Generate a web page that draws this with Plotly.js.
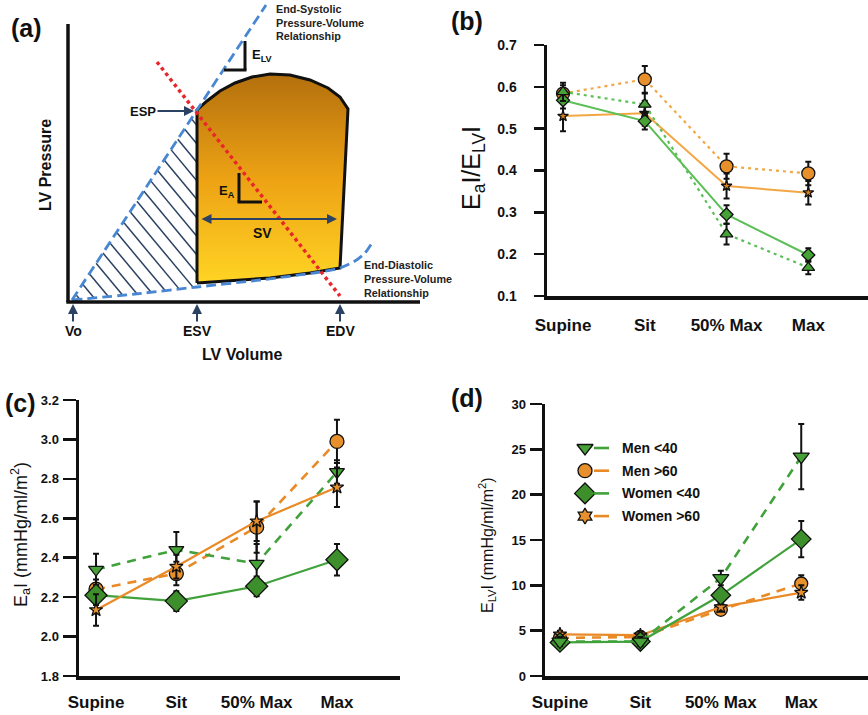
<!DOCTYPE html>
<html>
<head>
<meta charset="utf-8">
<script src="https://cdn.plot.ly/plotly-3.0.1.min.js"></script>
<style>
  html, body { margin: 0; padding: 0; background: #ffffff; }
  #chart { width: 868px; height: 715px; }
</style>
</head>
<body>
<div id="chart"></div>
<script>
// ---------- data ----------
const stages = ['Supine', 'Sit', '50% Max', 'Max'];
const groups = ['Men <40', 'Men >60', 'Women <40', 'Women >60'];

// (b) Ea I / ELV I
const ratioMenYoung      = [0.588, 0.558, 0.248, 0.168];
const ratioMenYoungErr   = [0.022, 0.026, 0.025, 0.016];
const ratioMenOld        = [0.584, 0.618, 0.410, 0.393];
const ratioMenOldErr     = [0.020, 0.032, 0.030, 0.028];
const ratioWomenYoung    = [0.568, 0.518, 0.295, 0.198];
const ratioWomenYoungErr = [0.020, 0.020, 0.022, 0.016];
const ratioWomenOld      = [0.530, 0.537, 0.363, 0.347];
const ratioWomenOldErr   = [0.036, 0.030, 0.030, 0.028];

// (c) Ea I (mmHg/ml/m2)
const eaMenYoung      = [2.34, 2.44, 2.37, 2.835];
const eaMenYoungErr   = [0.08, 0.09, 0.10, 0.06];
const eaMenOld        = [2.24, 2.32, 2.555, 2.99];
const eaMenOldErr     = [0.05, 0.06, 0.13, 0.11];
const eaWomenYoung    = [2.21, 2.18, 2.255, 2.39];
const eaWomenYoungErr = [0.05, 0.05, 0.05, 0.08];
const eaWomenOld      = [2.135, 2.355, 2.585, 2.757];
const eaWomenOldErr   = [0.08, 0.06, 0.10, 0.10];

// (d) ELV I (mmHg/ml/m2)
const elvMenYoung      = [3.8, 3.8, 10.8, 24.2];
const elvMenYoungErr   = [0.5, 0.5, 0.8, 3.6];
const elvMenOld        = [4.2, 4.3, 7.3, 10.2];
const elvMenOldErr     = [0.4, 0.4, 0.5, 0.9];
const elvWomenYoung    = [3.7, 3.8, 8.9, 15.1];
const elvWomenYoungErr = [0.4, 0.4, 0.6, 2.0];
const elvWomenOld      = [4.6, 4.5, 7.6, 9.2];
const elvWomenOldErr   = [0.4, 0.4, 0.5, 0.8];

// ---------- styling ----------
const W = 868, H = 715;
const fx = p => p / W;
const fy = p => 1 - p / H;
const FONT = 'Liberation Sans, Arial, sans-serif';
const INK = '#111111';
const NAVY = '#2B4263';
const BLUE = '#4A87D2';
const GREEN_LINE = '#41A23B', ORANGE_LINE = '#E98A26';
const GREEN_LINE_B = '#5CBF56', ORANGE_LINE_B = '#F3A744';
const GREEN_DIAMOND = '#3C8F2B', GREEN_TRI = '#46A236';
const ORANGE_FILL = '#E8902C', STAR_FILL = '#D9801E';

function series(xa, ya, y, err, o) {
  return {
    type: 'scatter', mode: 'lines+markers', x: stages, y: y,
    xaxis: xa, yaxis: ya, cliponaxis: false, showlegend: false, hoverinfo: 'skip',
    line: { color: o.line, width: o.lw, dash: o.dash },
    marker: { symbol: o.symbol, size: o.size, color: o.fill, opacity: 1, line: { color: INK, width: 1.3 } },
    error_y: { type: 'data', array: err, visible: true, color: INK, thickness: 2, width: 3 }
  };
}

const DOTTED = '3px,4px';
const DASHED = '9px,7px';

const traces = [];

// ---------- (a) pressure-volume schematic, drawn in pixel space ----------
const vo = [72, 300], esp = [197, 110];
const esSlope = (esp[1] - vo[1]) / (esp[0] - vo[0]);
const edSlope = (287 - vo[1]) / (esp[0] - vo[0]);
const hatchSlope = 1.2;
const hx = [], hy = [];
for (let c = -111; c <= 205; c += 18.5) {
  const xs = (vo[1] - esSlope * vo[0] - c) / (hatchSlope - esSlope);
  let xe = esp[0];
  let ye = hatchSlope * xe + c;
  if (ye > vo[1] + edSlope * (xe - vo[0])) {
    xe = (vo[1] - edSlope * vo[0] - c) / (hatchSlope - edSlope);
    ye = hatchSlope * xe + c;
  }
  if (xe <= xs) continue;
  hx.push(xs, xe, null);
  hy.push(hatchSlope * xs + c, ye, null);
}
traces.push({ type: 'scatter', mode: 'lines', x: hx, y: hy, xaxis: 'x', yaxis: 'y',
  line: { color: NAVY, width: 1.5 }, hoverinfo: 'skip', showlegend: false });

// pressure-volume loop
const loopX = [197, 197, 207, 220, 235, 252, 270, 290, 310, 328, 340, 348, 340, 310, 270, 230, 197];
const loopY = [283, 110, 101, 91, 83, 77, 74, 75, 80, 88, 97, 109, 268, 273, 278, 281, 283];
traces.push({ type: 'scatter', mode: 'lines', x: loopX, y: loopY, xaxis: 'x', yaxis: 'y',
  fill: 'toself',
  fillgradient: { type: 'vertical', start: 283, stop: 74,
    colorscale: [[0, '#FFD424'], [0.5, '#EDA214'], [1, '#B36F0D']] },
  line: { color: INK, width: 3 }, hoverinfo: 'skip', showlegend: false });

// end-systolic and end-diastolic pressure-volume relationships
traces.push({ type: 'scatter', mode: 'lines', x: [vo[0], 266], y: [vo[1], 5], xaxis: 'x', yaxis: 'y',
  line: { color: BLUE, width: 2.8, dash: '10px,5px' }, hoverinfo: 'skip', showlegend: false });
traces.push({ type: 'scatter', mode: 'lines',
  x: [72, 135, 197, 260, 320, 340, 355, 365, 372],
  y: [300, 294, 287, 280, 272, 268, 261, 253, 243],
  xaxis: 'x', yaxis: 'y', line: { color: BLUE, width: 2.8, dash: '10px,5px', shape: 'spline', smoothing: 0.8 },
  hoverinfo: 'skip', showlegend: false });

// arterial elastance line
traces.push({ type: 'scatter', mode: 'lines', x: [157, 340], y: [62, 296], xaxis: 'x', yaxis: 'y',
  line: { color: '#E8262B', width: 3.5, dash: 'dot' }, hoverinfo: 'skip', showlegend: false });

// ---------- (b) ----------
traces.push(series('x2', 'y2', ratioWomenOld, ratioWomenOldErr,
  { line: ORANGE_LINE_B, lw: 2, dash: 'solid', symbol: 'star', size: 8, fill: STAR_FILL }));
traces.push(series('x2', 'y2', ratioMenOld, ratioMenOldErr,
  { line: ORANGE_LINE_B, lw: 2.2, dash: DOTTED, symbol: 'circle', size: 13, fill: ORANGE_FILL }));
traces.push(series('x2', 'y2', ratioWomenYoung, ratioWomenYoungErr,
  { line: GREEN_LINE_B, lw: 2, dash: 'solid', symbol: 'diamond', size: 10, fill: GREEN_TRI }));
traces.push(series('x2', 'y2', ratioMenYoung, ratioMenYoungErr,
  { line: GREEN_LINE_B, lw: 2.2, dash: DOTTED, symbol: 'triangle-up', size: 11, fill: GREEN_TRI }));

// ---------- (c) ----------
traces.push(series('x3', 'y3', eaMenOld, eaMenOldErr,
  { line: ORANGE_LINE, lw: 2.6, dash: DASHED, symbol: 'circle', size: 14, fill: ORANGE_FILL }));
traces.push(series('x3', 'y3', eaMenYoung, eaMenYoungErr,
  { line: GREEN_LINE, lw: 2.6, dash: DASHED, symbol: 'triangle-down', size: 13, fill: GREEN_TRI }));
traces.push(series('x3', 'y3', eaWomenYoung, eaWomenYoungErr,
  { line: GREEN_LINE, lw: 2.2, dash: 'solid', symbol: 'diamond', size: 17, fill: GREEN_DIAMOND }));
traces.push(series('x3', 'y3', eaWomenOld, eaWomenOldErr,
  { line: ORANGE_LINE, lw: 2.2, dash: 'solid', symbol: 'star', size: 10, fill: ORANGE_FILL }));

// ---------- (d) ----------
traces.push(series('x4', 'y4', elvMenOld, elvMenOldErr,
  { line: ORANGE_LINE, lw: 2.6, dash: DASHED, symbol: 'circle', size: 13, fill: ORANGE_FILL }));
traces.push(series('x4', 'y4', elvWomenOld, elvWomenOldErr,
  { line: ORANGE_LINE, lw: 2.2, dash: 'solid', symbol: 'star', size: 10, fill: ORANGE_FILL }));
traces.push(series('x4', 'y4', elvWomenYoung, elvWomenYoungErr,
  { line: GREEN_LINE, lw: 2.2, dash: 'solid', symbol: 'diamond', size: 15, fill: GREEN_DIAMOND }));
traces.push(series('x4', 'y4', elvMenYoung, elvMenYoungErr,
  { line: GREEN_LINE, lw: 2.6, dash: DASHED, symbol: 'triangle-down', size: 14, fill: GREEN_TRI }));

// ---------- legend for (d): one glyph per group ----------
const legendSymbols = ['triangle-down', 'circle', 'diamond', 'hexagram'];
const legendFills = [GREEN_TRI, ORANGE_FILL, GREEN_DIAMOND, ORANGE_FILL];
const legendLines = [GREEN_LINE, ORANGE_LINE, GREEN_LINE, ORANGE_LINE];
const legendSizes = [14, 14, 16, 12];
const legendTop = 448, legendStep = 22.7;
const legendRowY = groups.map((g, i) => legendTop + i * legendStep);
groups.forEach((g, i) => {
  traces.push({ type: 'scatter', mode: 'markers', x: [585], y: [legendRowY[i]],
    xaxis: 'x', yaxis: 'y', hoverinfo: 'skip', showlegend: false, cliponaxis: false,
    marker: { symbol: legendSymbols[i], size: legendSizes[i], color: legendFills[i], opacity: 1,
      line: { color: INK, width: 1.3 } } });
});

// ---------- shapes ----------
const shapes = [
  // (a) axes
  { type: 'line', xref: 'x', yref: 'y', x0: 68, y0: 24, x1: 68, y1: 302, line: { color: INK, width: 3.5 } },
  { type: 'line', xref: 'x', yref: 'y', x0: 66.3, y0: 302, x1: 420, y1: 302, line: { color: INK, width: 3.5 } },
  // ELV slope marker
  { type: 'line', xref: 'x', yref: 'y', x0: 245, y0: 41, x1: 245, y1: 70, line: { color: INK, width: 3 } },
  { type: 'line', xref: 'x', yref: 'y', x0: 224, y0: 70, x1: 246.5, y1: 70, line: { color: INK, width: 3 } },
  // EA slope marker
  { type: 'line', xref: 'x', yref: 'y', x0: 239, y0: 173, x1: 239, y1: 202, line: { color: INK, width: 3 } },
  { type: 'line', xref: 'x', yref: 'y', x0: 237.5, y0: 202, x1: 262, y1: 202, line: { color: INK, width: 3 } }
];
groups.forEach((g, i) => {
  shapes.push({ type: 'line', xref: 'x', yref: 'y', x0: 594, x1: 609, y0: legendRowY[i], y1: legendRowY[i],
    line: { color: legendLines[i], width: 2.6 } });
});

// ---------- annotations ----------
function label(text, x, y, size, extra) {
  return Object.assign({ xref: 'x', yref: 'y', x: x, y: y, text: text, showarrow: false,
    font: { family: FONT, size: size, color: INK, weight: 700 } }, extra || {});
}
function pointer(text, x, y, ax, ay, size) {
  return { xref: 'x', yref: 'y', axref: 'x', ayref: 'y', x: x, y: y, ax: ax, ay: ay, text: text,
    showarrow: true, arrowhead: 2, arrowsize: 1, arrowwidth: 2, arrowcolor: NAVY,
    font: { family: FONT, size: size, color: INK, weight: 700 } };
}
function noteLines(lines, x, y0, step) {
  return lines.map((t, i) => label(t, x, y0 + i * step, 10.8,
    { xanchor: 'left', font: { family: FONT, size: 10.8, color: '#222', weight: 700 } }));
}

const annotations = [
  label('(a)', 26, 28, 25),
  label('(b)', 467, 21, 25),
  label('(c)', 20, 403, 25),
  label('(d)', 467, 398, 25),
  ...noteLines(['End-Systolic', 'Pressure-Volume', 'Relationship'], 274, 9, 13.5),
  ...noteLines(['End-Diastolic', 'Pressure-Volume', 'Relationship'], 362, 265, 13.8),
  label('E<sub>LV</sub>', 250, 55, 13, { xanchor: 'left' }),
  label('E<sub>A</sub>', 237, 191, 13, { xanchor: 'right' }),
  label('SV', 262, 233, 14),
  label('LV Volume', 242, 354, 16),
  label('LV Pressure', 45, 165, 16, { textangle: -90 }),
  pointer('ESP', 194, 111, 143, 111, 13),
  pointer('Vo', 73, 304, 73, 331, 14),
  pointer('ESV', 197, 304, 197, 331, 14),
  pointer('EDV', 340, 304, 340, 331, 14),
  { xref: 'x', yref: 'y', axref: 'x', ayref: 'y', x: 337, y: 219, ax: 200, ay: 219, text: '',
    showarrow: true, arrowside: 'end+start', arrowhead: 2, arrowsize: 1, arrowwidth: 2, arrowcolor: NAVY },
  // axis titles of the data panels
  label('E<sub>a</sub>I/E<sub>LV</sub>I', 473, 168, 25, { textangle: -90, font: { family: FONT, size: 25, color: INK, weight: 400 } }),
  label('E<sub>a</sub>I (mmHg/ml/m<sup>2</sup>)', 20, 535, 18, { textangle: -90, font: { family: FONT, size: 18, color: INK, weight: 400 } }),
  label('E<sub>LV</sub>I (mmHg/ml/m<sup>2</sup>)', 487, 545, 16, { textangle: -90, font: { family: FONT, size: 16, color: INK, weight: 400 } })
];
groups.forEach((g, i) => {
  annotations.push(label(g, 620, legendRowY[i], 14, { xanchor: 'left' }));
});

// ---------- axes ----------
const xTickFont = { family: FONT, size: 17, color: INK, weight: 700 };
function catAxis(domain, anchor, range, standoff) {
  return { domain: domain, anchor: anchor, type: 'category', range: range,
    showline: true, linewidth: 3.5, linecolor: INK, ticks: '', showgrid: false, zeroline: false,
    tickfont: xTickFont, ticklabelstandoff: standoff, fixedrange: true };
}
function valAxis(domain, anchor, range, vals, fmt, len, size, standoff) {
  return { domain: domain, anchor: anchor, range: range, tickvals: vals, tickformat: fmt,
    showline: true, linewidth: 3.5, linecolor: INK, ticks: 'outside', ticklen: len, tickwidth: 2.5,
    tickcolor: INK, showgrid: false, zeroline: false, ticklabelstandoff: standoff,
    tickfont: { family: FONT, size: size, color: INK, weight: 700 }, fixedrange: true };
}

const layout = {
  width: W, height: H, margin: { l: 0, r: 0, t: 0, b: 0 },
  paper_bgcolor: '#ffffff', plot_bgcolor: 'rgba(0,0,0,0)',
  showlegend: false, font: { family: FONT, color: INK },
  xaxis: { domain: [0, 1], range: [0, W], visible: false, fixedrange: true },
  yaxis: { domain: [0, 1], range: [H, 0], visible: false, fixedrange: true },
  xaxis2: catAxis([fx(547), 1], 'y2', [-0.196, 3.73], 11),
  yaxis2: valAxis([fy(296), fy(45)], 'x2', [0.1, 0.7], [0.1, 0.2, 0.3, 0.4, 0.5, 0.6, 0.7], '.1f', 10, 14, 14),
  xaxis3: catAxis([fx(79), fx(400)], 'y3', [-0.212, 3.785], 8),
  yaxis3: valAxis([fy(676), fy(400)], 'x3', [1.8, 3.2], [1.8, 2.0, 2.2, 2.4, 2.6, 2.8, 3.0, 3.2], '.1f', 13, 13, 1),
  xaxis4: catAxis([fx(545), 1], 'y4', [-0.186, 3.83], 8),
  yaxis4: valAxis([fy(676), fy(404)], 'x4', [0, 30], [0, 5, 10, 15, 20, 25, 30], '', 12, 13, 1),
  shapes: shapes,
  annotations: annotations
};

Plotly.newPlot('chart', traces, layout, { staticPlot: true, displayModeBar: false });
</script>
</body>
</html>
